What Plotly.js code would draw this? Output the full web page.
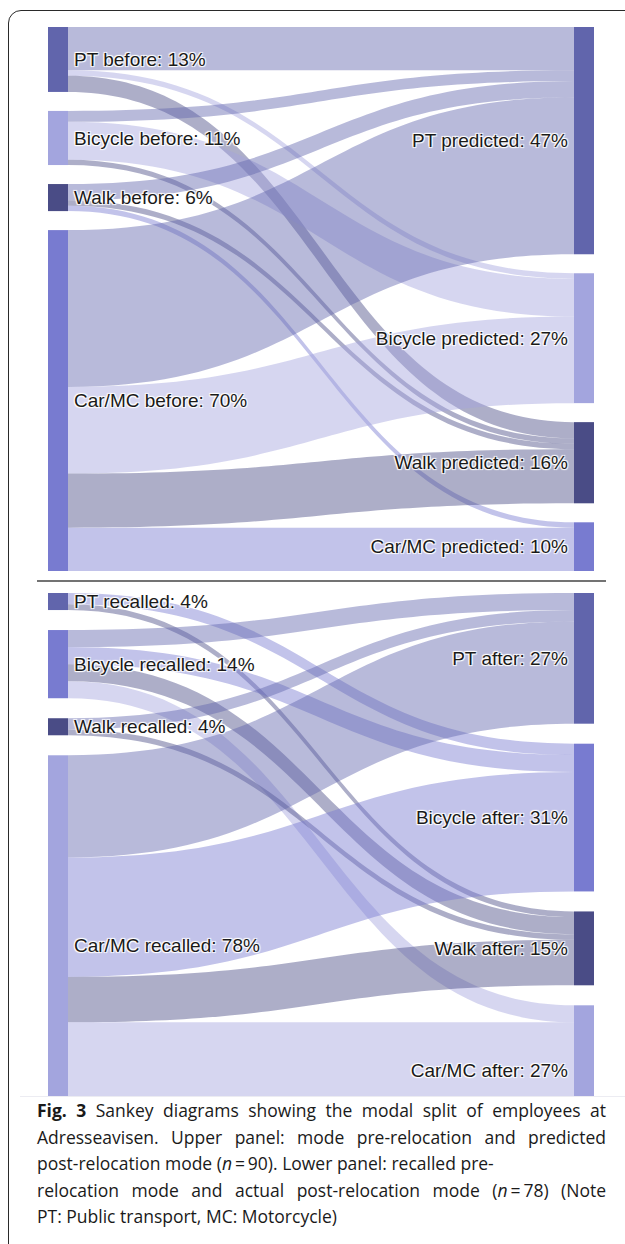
<!DOCTYPE html>
<html>
<head>
<meta charset="utf-8">
<script src="https://cdn.plot.ly/plotly-3.0.1.min.js"></script>
<style>
  html, body { margin: 0; padding: 0; background: #ffffff; }
  #wrap { position: relative; width: 625px; height: 1244px; overflow: hidden; }
  #chart { position: absolute; left: 0; top: 0; width: 625px; height: 1244px; }
  /* the lower diagram is cropped at its bottom edge in the original figure */
  #crop { position: absolute; left: 20px; top: 1096px; width: 605px; height: 148px; background: #ffffff;
          border-top: 1px solid #ececf2; }
  #frame { position: absolute; left: 8px; top: 10px; width: 700px; height: 1300px;
           border: 1.5px solid #2a2a2a; border-top-left-radius: 13px; pointer-events: none; }
  #caption { position: absolute; left: 37px; top: 1097px; width: 569px;
             font-family: "Open Sans", "Noto Sans", sans-serif; font-size: 17.5px;
             line-height: 26.5px; color: #1a1a1a; }
  #caption .j { text-align: justify; text-align-last: justify; white-space: nowrap; }
  #caption .l { text-align: left; white-space: nowrap; }
</style>
</head>
<body>
<div id="wrap">
  <div id="chart"></div>
  <div id="crop"></div>
  <div id="frame"></div>
  <div id="caption">
    <div class="j"><b>Fig. 3</b> Sankey diagrams showing the modal split of employees at</div>
    <div class="j">Adresseavisen. Upper panel: mode pre-relocation and predicted</div>
    <div class="l">post-relocation mode (<i>n</i>&#8201;=&#8201;90). Lower panel: recalled pre-</div>
    <div class="j">relocation mode and actual post-relocation mode (<i>n</i>&#8201;=&#8201;78) (Note</div>
    <div class="l">PT: Public transport, MC: Motorcycle)</div>
  </div>
</div>
<script>
// ---------- Upper panel: mode before -> predicted (n = 90) ----------
const upperLabels = ["PT before: 13%", "Bicycle before: 11%", "Walk before: 6%", "Car/MC before: 70%",
                     "PT predicted: 47%", "Bicycle predicted: 27%", "Walk predicted: 16%", "Car/MC predicted: 10%"];
const upperNodeColors = ["#6165ac", "#a3a5de", "#4a4c86", "#787bd0",
                         "#6165ac", "#a3a5de", "#4a4c86", "#787bd0"];
const upperSource = [0, 0, 0, 1, 1, 1, 2, 2, 2, 3, 3, 3, 3];
const upperTarget = [4, 5, 6, 4, 5, 6, 4, 6, 7, 4, 5, 6, 7];
const upperValue  = [8, 1, 3, 2, 7, 1, 3, 1, 1, 29, 16, 10, 8];

// ---------- Lower panel: recalled -> after ----------
const lowerLabels = ["PT recalled: 4%", "Bicycle recalled: 14%", "Walk recalled: 4%", "Car/MC recalled: 78%",
                     "PT after: 27%", "Bicycle after: 31%", "Walk after: 15%", "Car/MC after: 27%"];
const lowerNodeColors = ["#6165ac", "#787bd0", "#4a4c86", "#a3a5de",
                         "#6165ac", "#787bd0", "#4a4c86", "#a3a5de"];
const lowerSource = [0, 0, 1, 1, 1, 1, 2, 2, 3, 3, 3, 3];
const lowerTarget = [5, 6, 4, 5, 6, 7, 4, 6, 4, 5, 6, 7];
const lowerValue  = [2, 1, 3, 3, 3, 3, 2, 1, 18, 21, 8, 20];

const LINK_ALPHA = 0.45;
const THICK = 20;
const LABEL_GAP = 3;               // extra distance between node and its label (px)
const W = 625, H = 1244;
const X0 = 48, X1 = 594;           // horizontal extent of both diagrams (px)

function rgba(hex, a) {
  const r = parseInt(hex.slice(1, 3), 16), g = parseInt(hex.slice(3, 5), 16), b = parseInt(hex.slice(5, 7), 16);
  return "rgba(" + r + "," + g + "," + b + "," + a + ")";
}
// links take the colour of their target node
function linkColors(targets, nodeColors) { return targets.map(t => rgba(nodeColors[t], LINK_ALPHA)); }

// keep the node order of the original (top to bottom as listed), letting the
// sankey's own value scale decide the node heights
function nodeOrderPositions(nNodes, src, tgt, val, pad, hPx, wPx) {
  const half = nNodes / 2;
  const totals = new Array(nNodes).fill(0);
  src.forEach((s, i) => { totals[s] += val[i]; });
  tgt.forEach((t, i) => { totals[t] += val[i]; });
  const cols = [[...Array(half).keys()], [...Array(half).keys()].map(i => i + half)];
  const ky = Math.min(...cols.map(c => (hPx - (c.length - 1) * pad) / c.reduce((a, i) => a + totals[i], 0)));
  const x = new Array(nNodes), y = new Array(nNodes);
  cols.forEach((c, ci) => {
    let acc = 0;
    c.forEach((n) => {
      const h = totals[n] * ky;
      y[n] = (acc + h / 2) / hPx;
      acc += h + pad;
      x[n] = ci === 0 ? (THICK / 2) / wPx : 1 - (THICK / 2) / wPx;
    });
  });
  return { x, y };
}

const labelFont = { family: "Liberation Sans, Arial, sans-serif", size: 19, color: "#1a1a1a" };

function sankeyTrace(labels, nodeColors, src, tgt, val, yTopPx, yBotPx, pad) {
  const pos = nodeOrderPositions(labels.length, src, tgt, val, pad, yBotPx - yTopPx, X1 - X0);
  return {
    type: "sankey",
    orientation: "h",
    arrangement: "fixed",
    domain: { x: [X0 / W, X1 / W], y: [1 - yBotPx / H, 1 - yTopPx / H] },
    textfont: labelFont,
    hoverinfo: "none",
    node: {
      label: labels,
      color: nodeColors,
      thickness: THICK,
      pad: pad,
      x: pos.x,
      y: pos.y,
      line: { width: 0 }
    },
    link: {
      source: src,
      target: tgt,
      value: val,
      color: linkColors(tgt, nodeColors)
    }
  };
}

const data = [
  sankeyTrace(upperLabels, upperNodeColors, upperSource, upperTarget, upperValue, 27, 571, 19),
  sankeyTrace(lowerLabels, lowerNodeColors, lowerSource, lowerTarget, lowerValue, 593, 1136, 20)
];

const layout = {
  width: W, height: H,
  margin: { l: 0, r: 0, t: 0, b: 0 },
  paper_bgcolor: "#ffffff",
  font: { family: "Liberation Sans, Arial, sans-serif", size: 19, color: "#1a1a1a" },
  showlegend: false,
  shapes: [
    { type: "line", xref: "paper", yref: "paper",
      x0: 37 / W, x1: 606 / W, y0: 1 - 581 / H, y1: 1 - 581 / H,
      line: { color: "#444444", width: 1.5 } }
  ]
};

Plotly.newPlot("chart", data, layout, { staticPlot: true, displayModeBar: false }).then(gd => {
  // move node labels slightly further away from their nodes, as in the original
  gd.querySelectorAll(".node-label").forEach(el => {
    const anchor = el.getAttribute("text-anchor") || el.style.textAnchor;
    const dx = anchor === "end" ? -LABEL_GAP : (anchor === "start" ? LABEL_GAP : 0);
    if (dx) {
      const t = el.getAttribute("transform") || "";
      el.setAttribute("transform", t + " translate(" + dx + ",0)");
    }
  });
});
</script>
</body>
</html>
